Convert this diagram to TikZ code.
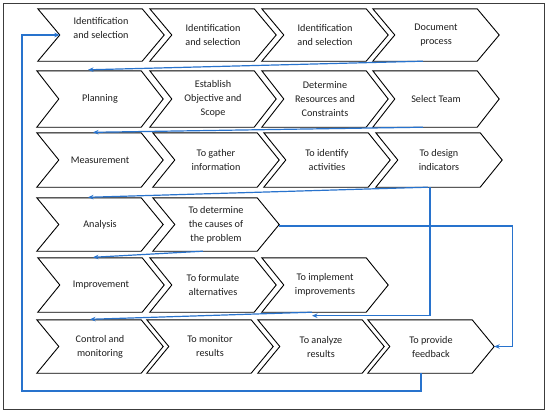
\documentclass[tikz,border=0pt]{standalone}
\usepackage{fontspec}
\setmainfont{Carlito}
\usetikzlibrary{arrows.meta}
\definecolor{flowblue}{RGB}{40,115,205}
\definecolor{framegray}{RGB}{60,60,60}
\newcommand\chevpath[1]{\draw[chevline] (#1.north west) -- ([xshift=-22pt]#1.north east) -- (#1.east) -- ([xshift=-22pt]#1.south east) -- (#1.south west) -- ([xshift=22pt]#1.west) -- cycle;}
\begin{document}
\begin{tikzpicture}[x=1pt,y=-1pt,
  chevbox/.style={minimum width=126pt, inner sep=0pt, align=center, font=\fontsize{10.2}{14}\selectfont, text=black!88},
  chevline/.style={draw=black, line width=0.9pt, line join=miter},
  link/.style={draw=flowblue, line width=1.2pt, -{Stealth[length=5.5pt,width=4.5pt]}},
  plainlink/.style={draw=flowblue, line width=1.2pt}]
\useasboundingbox (0,0) rectangle (550,415);
\fill[white] (0,0) rectangle (550,415);
\draw[framegray, line width=1.6pt] (3.5,3.5) rectangle (544.5,409.5);

% row 1
\node[chevbox, minimum height=52pt, text depth=14pt] (id1) at (101,35) {Identification\\and selection};
\node[chevbox, minimum height=52pt] (id2) at (213,35) {Identification\\and selection};
\node[chevbox, minimum height=52pt] (id3) at (325,35) {Identification\\and selection};
\node[chevbox, minimum height=52pt] (doc) at (436,35) {Document\\process};
% row 2
\node[chevbox, minimum height=56pt] (plan) at (100,99) {Planning};
\node[chevbox, minimum height=56pt] (est) at (213,99) {Establish\\Objective and\\Scope};
\node[chevbox, minimum height=56pt] (det) at (325,99) {Determine\\Resources and\\Constraints};
\node[chevbox, minimum height=56pt] (team) at (436,99) {Select Team};
% row 3
\node[chevbox, minimum height=54pt] (meas) at (100,160) {Measurement};
\node[chevbox, minimum height=54pt] (gath) at (216,160) {To gather\\information};
\node[chevbox, minimum height=54pt] (idact) at (327,160) {To identify\\activities};
\node[chevbox, minimum height=54pt] (desi) at (439,160) {To design\\indicators};
% row 4
\node[chevbox, minimum height=53pt] (anal) at (100,224.5) {Analysis};
\node[chevbox, minimum height=53pt] (cause) at (216,224.5) {To determine\\the causes of\\the problem};
% row 5
\node[chevbox, minimum height=54pt] (impr) at (101,285) {Improvement};
\node[chevbox, minimum height=54pt] (form) at (213,285) {To formulate\\alternatives};
\node[chevbox, minimum height=54pt] (impl) at (325,285) {To implement\\improvements};
% row 6
\node[chevbox, minimum height=53pt] (ctrl) at (100,346.5) {Control and\\monitoring};
\node[chevbox, minimum height=53pt] (mon) at (210,346.5) {To monitor\\results};
\node[chevbox, minimum height=53pt] (ana) at (321,346.5) {To analyze\\results};
\node[chevbox, minimum height=53pt] (fb) at (431,346.5) {To provide\\feedback};

\foreach \n in {id1,id2,id3,doc,plan,est,det,team,meas,gath,idact,desi,anal,cause,impr,form,impl,ctrl,mon,ana,fb}{\chevpath{\n}}

% connectors
\coordinate (loopcorner) at (22,391);
\coordinate (r56) at ([xshift=-13pt]impl.south);
\draw[link] ([xshift=-10pt]fb.south) |- (loopcorner) |- ([xshift=22pt]id1.west);
\draw[link] ([xshift=-13pt]doc.south) -- ([xshift=-12pt,yshift=1pt]plan.north);
\draw[link] ([xshift=-13pt]team.south) -- ([xshift=-7pt,yshift=0.5pt]meas.north);
\draw[link] ([xshift=-11pt]desi.south) -- ([xshift=-12pt,yshift=0.5pt]anal.north);
\draw[link] ([xshift=-9pt]desi.south) |- ([yshift=-3.5pt]r56);
\draw[link] ([yshift=-1.5pt]cause.east) -- ++(233,0) |- (fb.east);
\draw[link] ([xshift=-13pt]cause.south) -- ([xshift=-8pt,yshift=0.5pt]impr.north);
\draw[link] (r56) -- ([xshift=-10pt,yshift=0.5pt]ctrl.north);
\end{tikzpicture}
\end{document}
